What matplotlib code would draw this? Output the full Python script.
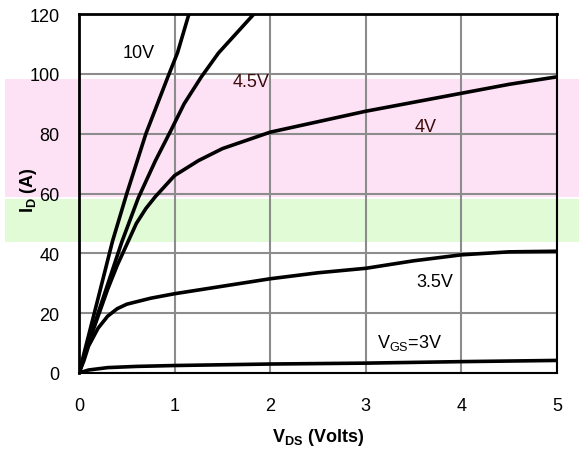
import numpy as np
import matplotlib
matplotlib.use("Agg")
import matplotlib.pyplot as plt
from matplotlib.patches import Rectangle

plt.rcParams["font.family"] = ["Liberation Sans", "DejaVu Sans"]
plt.rcParams["mathtext.fontset"] = "custom"
plt.rcParams["mathtext.rm"] = "Liberation Sans"
plt.rcParams["mathtext.bf"] = "Liberation Sans:bold"

# output characteristics
v_3v = [0, 0.1, 0.3, 0.6, 1.0, 2.0, 3.0, 4.0, 5.0]
i_3v = [0, 1.0, 1.8, 2.2, 2.5, 3.0, 3.3, 3.8, 4.2]

v_35v = [0, 0.05, 0.1, 0.2, 0.3, 0.4, 0.5, 0.75, 1.0, 1.5, 2.0, 2.5, 3.0, 3.5, 4.0, 4.5, 5.0]
i_35v = [0, 4, 9, 15, 19, 21.5, 23, 25, 26.5, 29, 31.5, 33.5, 35, 37.5, 39.5, 40.5, 40.7]

v_4v = [0, 0.1, 0.2, 0.3, 0.4, 0.5, 0.6, 0.7, 0.8, 1.0, 1.25, 1.5, 2.0, 2.5, 3.0, 3.5, 4.0, 4.5, 5.0]
i_4v = [0, 10, 19, 28, 36, 43, 50, 55, 59, 66, 71, 75, 80.5, 84, 87.5, 90.5, 93.5, 96.5, 99]

v_45v = [0, 0.2, 0.45, 0.62, 0.8, 0.96, 1.1, 1.28, 1.46, 1.83]
i_45v = [0, 20, 44, 58.5, 71, 81, 90, 99, 107, 120]

v_10v = [0, 0.2, 0.35, 0.5, 0.7, 0.93, 1.03, 1.15]
i_10v = [0, 25, 44, 60, 80, 99, 107, 120]

x_ticks = [0, 1, 2, 3, 4, 5]
y_ticks = [0, 20, 40, 60, 80, 100, 120]

fig = plt.figure(figsize=(5.79, 4.56), dpi=100)

# coloured bands across the figure, behind the axes
fig.patches.append(Rectangle((5 / 579, 1 - 198 / 456), 574 / 579, 118 / 456,
                             transform=fig.transFigure, facecolor="#fde2f6",
                             edgecolor="none", zorder=0))
fig.patches.append(Rectangle((5 / 579, 1 - 243 / 456), 574 / 579, 43 / 456,
                             transform=fig.transFigure, facecolor="#e0fbd5",
                             edgecolor="none", zorder=0))

ax = fig.add_axes([79 / 579, 1 - 374 / 456, 478 / 579, 359 / 456])
ax.set_zorder(2)
ax.patch.set_alpha(0)

for v, i in [(v_3v, i_3v), (v_35v, i_35v), (v_4v, i_4v), (v_45v, i_45v), (v_10v, i_10v)]:
    ax.plot(v, i, color="black", linewidth=2.6, solid_capstyle="butt", zorder=3)

ax.set_xlim(0, 5)
ax.set_ylim(0, 120)
ax.set_xticks(x_ticks)
ax.set_yticks(y_ticks)
ax.tick_params(length=0, labelsize=13)
ax.tick_params(axis="x", pad=17)
ax.tick_params(axis="y", pad=14)
ax.grid(True, color="#8c8c8c", linewidth=1.5)
ax.set_axisbelow(True)
for side in ["top", "left"]:
    ax.spines[side].set_linewidth(2)
for side in ["bottom", "right"]:
    ax.spines[side].set_linewidth(1.5)

ax.text(0.62, 107, "10V", fontsize=13, ha="center", va="center")
ax.text(1.8, 97.5, "4.5V", fontsize=13, ha="center", va="center", color="#3c0a0a")
ax.text(3.63, 82.5, "4V", fontsize=13, ha="center", va="center", color="#3c0a0a")
ax.text(3.72, 30.5, "3.5V", fontsize=13, ha="center", va="center")
ax.text(3.46, 10.5, r"V$_{\mathrm{GS}}$=3V", fontsize=13, ha="center", va="center")

ax.set_xlabel(r"$\mathbf{V_{DS}}$ (Volts)", fontsize=13, fontweight="bold", va="center")
ax.xaxis.set_label_coords(0.5, -0.178)
ax.set_ylabel(r"$\mathbf{I_D}$ (A)", fontsize=13, fontweight="bold", va="center")
ax.yaxis.set_label_coords(-0.106, 0.513)

fig.savefig("out.png", dpi=100)
